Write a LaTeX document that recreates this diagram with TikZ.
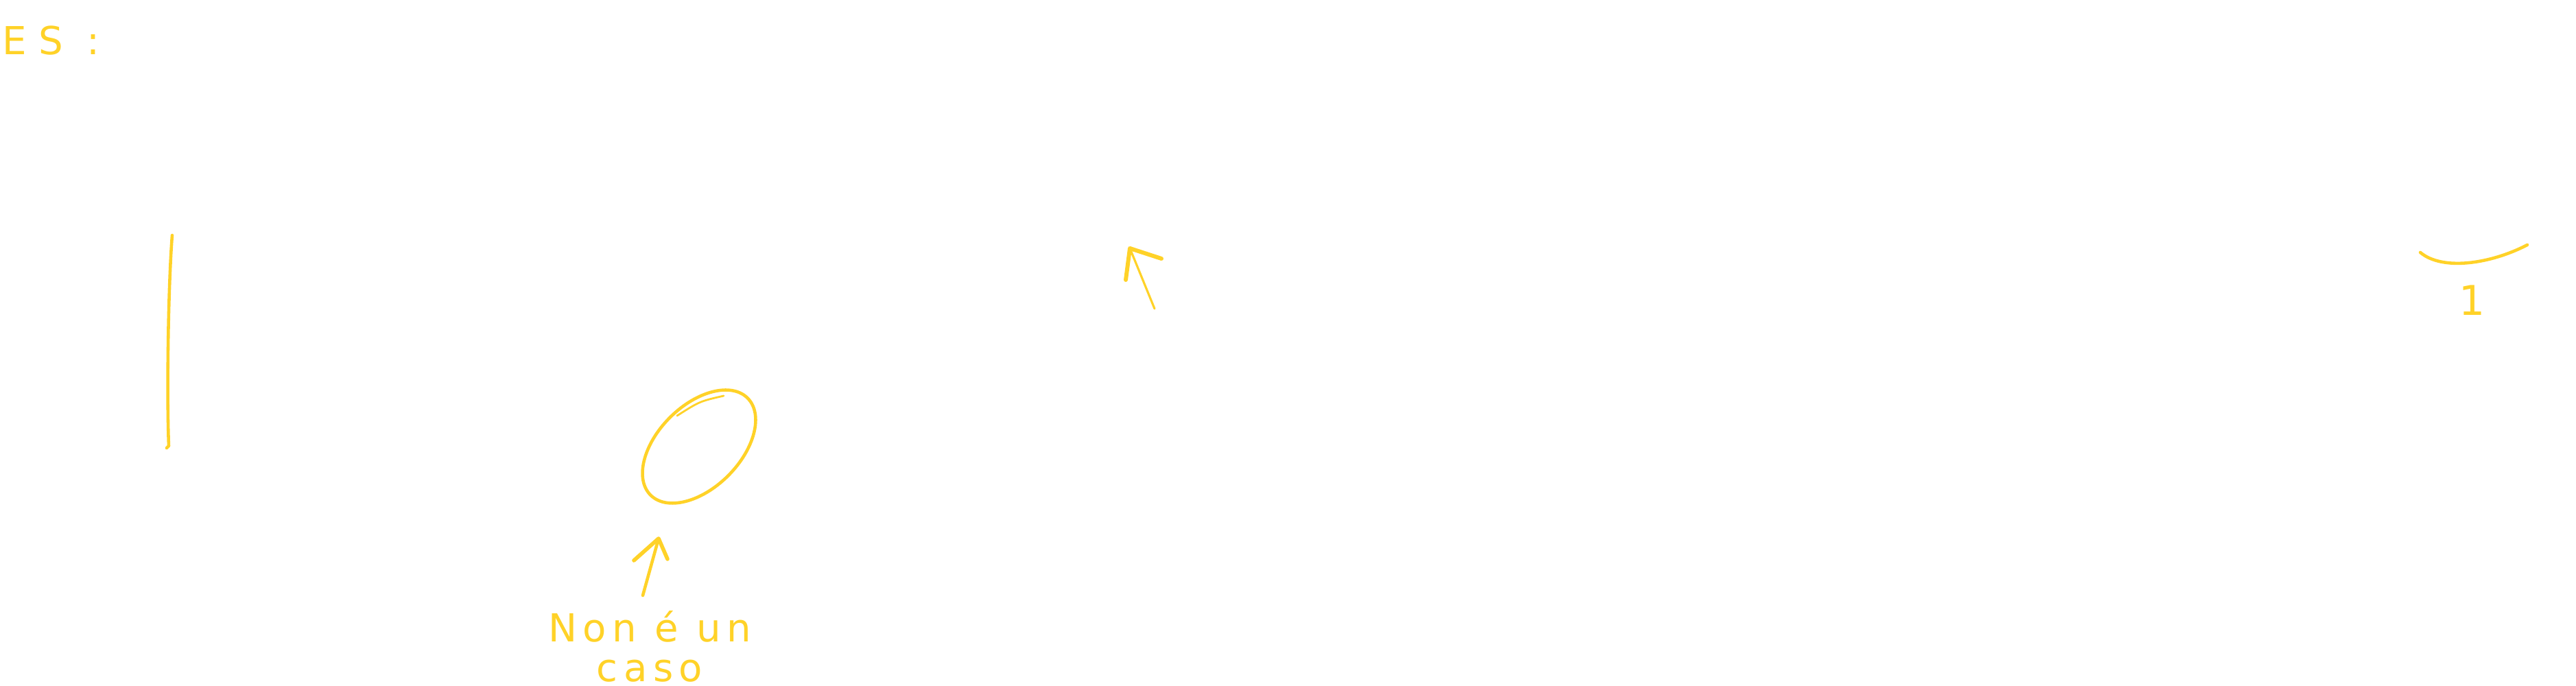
\documentclass[tikz,border=0pt]{standalone}
\usepackage{fontspec}
\setmainfont{DejaVu Sans}
\newfontfamily\handfont{DejaVu Sans}[LetterSpace=15]
\newfontfamily\widefont{DejaVu Sans}[LetterSpace=30]
\usetikzlibrary{shapes.geometric}
\definecolor{marker}{RGB}{255,210,40}
\tikzset{
    pen/.style={draw=marker, line width=1.3pt, line cap=round, line join=round},
    hand/.style={text=marker, inner sep=0pt, font=\handfont\fontsize{16pt}{16.5pt}\selectfont}
}
\begin{document}
\begin{tikzpicture}
    \useasboundingbox (0,0) rectangle (37.55,-10);
    \node[hand, anchor=base west, font=\widefont\fontsize{16pt}{16pt}\selectfont] (es) at (0.03,-0.80) {ES :};
    \draw[pen] (2.51,-3.43) .. controls (2.45,-4.2) and (2.43,-5.8) .. (2.46,-6.50) -- (2.43,-6.53);
    \node[pen, ellipse, rotate=45, minimum width=2.0cm, minimum height=1.2cm, inner sep=0pt] (oval) at (10.19,-6.51) {};
    \draw[pen, line width=0.8pt] (9.87,-6.06) .. controls (10.2,-5.85) .. (10.55,-5.77);
    \coordinate (tail) at (9.37,-8.68);
    \coordinate (tip) at (9.60,-7.85);
    \draw[pen] (tail) -- (tip);
    \draw[pen, line width=1.6pt] (9.24,-8.17) -- (tip) -- (9.73,-8.15);
    \node[hand, align=center, anchor=north] (note) at (9.47,-8.90) {Non é un\\caso};
    \coordinate (mtail) at (16.83,-4.50);
    \coordinate (mtip) at (16.47,-3.62);
    \draw[pen, line width=0.9pt] (mtail) -- (mtip);
    \draw[pen, line width=1.7pt] (16.41,-4.08) -- (mtip) -- (16.93,-3.77);
    \draw[pen] (35.28,-3.68) .. controls (35.6,-3.95) and (36.3,-3.85) .. (36.84,-3.57);
    \node[hand, anchor=base, font=\normalfont\fontsize{17pt}{17pt}\selectfont] (one) at (36.03,-4.60) {1};
\end{tikzpicture}
\end{document}
